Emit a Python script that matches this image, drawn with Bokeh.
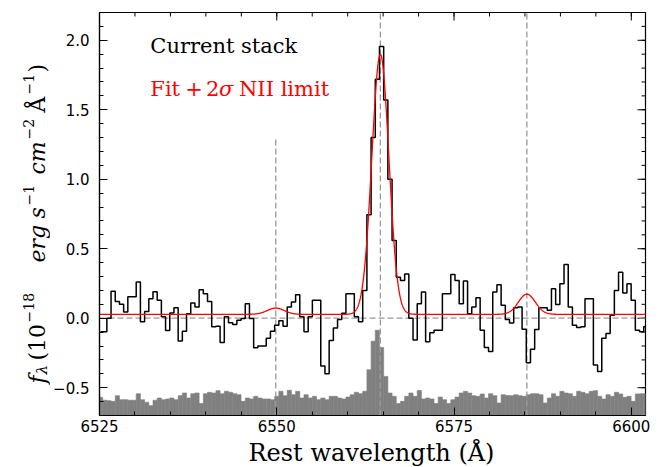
import numpy as np
from bokeh.plotting import figure
from bokeh.layouts import row, column
from bokeh.models import Range1d, FixedTicker, Label, CustomJSTickFormatter
from bokeh.embed import file_html
from bokeh.resources import INLINE

# ---------------- data ----------------
wave_start = 6525.15   # first bin centre (Angstrom)
wave_step = 0.5915     # bin width (Angstrom)

flux = [-0.098, -0.098, 0.0, 0.195, 0.12, 0.10, 0.045, 0.155, 0.155, 0.26,
        -0.026, 0.048, 0.14, 0.19, 0.13, 0.01, -0.088, 0.038, 0.076, -0.164,
        -0.093, 0.033, 0.11, 0.08, 0.205, 0.176, 0.12, -0.062, -0.057, -0.174,
        0.01, -0.033, -0.045, -0.014, -0.002, 0.105, -0.002, -0.212, -0.2, -0.2,
        -0.145, -0.093, -0.05, -0.019, -0.057, 0.081, 0.117, 0.169, 0.01, -0.098,
        0.01, 0.129, 0.129, -0.343, -0.40, -0.16, -0.07, -0.01, 0.035, 0.176,
        0.176, 0.01, -0.025, 0.2, 0.745, 1.30, 1.72, 1.955, 1.57, 1.0,
        0.56, 0.295, 0.271, 0.319, 0.0, -0.157, 0.105, 0.188, -0.169, -0.105,
        -0.086, -0.086, 0.176, 0.176, 0.314, 0.271, 0.105, 0.267, 0.033, 0.081,
        0.148, -0.086, -0.21, -0.24, 0.188, 0.24, 0.093, -0.01, -0.035, 0.075,
        0.081, -0.08, -0.32, -0.224, -0.081, 0.076, 0.076, 0.057, 0.212, 0.098,
        0.248, 0.386, 0.081, -0.05, -0.067, -0.062, 0.14, 0.14, -0.336, -0.383,
        -0.145, -0.11, 0.021, 0.2, 0.331, 0.181, 0.248, 0.129, -0.086, -0.098,
        -0.062]

err_offset = [-0.569, -0.59, -0.593, -0.598, -0.557, -0.586, -0.586, -0.59, -0.59, -0.543,
              -0.586, -0.605, -0.629, -0.59, -0.574, -0.586, -0.581, -0.574, -0.586, -0.557,
              -0.538, -0.574, -0.543, -0.538, -0.614, -0.543, -0.533, -0.538, -0.521, -0.543,
              -0.526, -0.533, -0.543, -0.55, -0.598, -0.574, -0.581, -0.562, -0.574, -0.581,
              -0.581, -0.586, -0.562, -0.526, -0.557, -0.519, -0.55, -0.526, -0.574, -0.55,
              -0.574, -0.562, -0.586, -0.574, -0.586, -0.562, -0.562, -0.574, -0.581, -0.567,
              -0.55, -0.533, -0.543, -0.526, -0.371, -0.165, -0.086, -0.21, -0.419, -0.538,
              -0.562, -0.614, -0.598, -0.562, -0.538, -0.562, -0.52, -0.581, -0.574, -0.581,
              -0.614, -0.567, -0.586, -0.614, -0.586, -0.567, -0.538, -0.526, -0.538, -0.557,
              -0.562, -0.545, -0.574, -0.543, -0.557, -0.61, -0.55, -0.556, -0.557, -0.55,
              -0.557, -0.562, -0.55, -0.543, -0.543, -0.55, -0.61, -0.574, -0.543, -0.562,
              -0.526, -0.538, -0.543, -0.562, -0.526, -0.533, -0.543, -0.526, -0.521, -0.562,
              -0.581, -0.55, -0.562, -0.533, -0.545, -0.569, -0.562, -0.598, -0.545, -0.543,
              -0.543]

line_centers = [6549.86, 6564.61, 6585.27]   # NII, Halpha, NII
line_tops = [1.3, 2.2, 2.2]
fit_amps = [0.045, 1.87, 0.145]
fit_sigma = 1.2
fit_cont = 0.028

x_ticks = [6525, 6550, 6575, 6600]
y_ticks = [-0.5, 0.0, 0.5, 1.0, 1.5, 2.0]
x_minor = [6525 + 5 * i for i in range(16)]
y_minor = [round(-0.7 + 0.1 * i, 1) for i in range(30)]

XMIN, XMAX = 6525, 6602
YMIN, YMAX = -0.7, 2.2

wave = wave_start + wave_step * np.arange(len(flux))
fit_wave = np.linspace(XMIN, XMAX, 2000)
fit = fit_cont + sum(a * np.exp(-0.5 * ((fit_wave - c) / fit_sigma) ** 2)
                     for a, c in zip(fit_amps, line_centers))

H = 467
HTOP = 437       # height of the row holding the plot (the rest holds the x title)
WL = 50          # width of the strip holding the y-axis title
SERIF = "DejaVu Serif"
FTOP, FBOT = 12, 415

# ---------------- main figure ----------------
p = figure(width=660 - WL, height=HTOP, output_backend="svg", toolbar_location=None,
           x_range=Range1d(XMIN, XMAX), y_range=Range1d(YMIN, YMAX),
           min_border_left=47, min_border_right=15, min_border_top=FTOP,
           min_border_bottom=HTOP - FBOT)
p.xgrid.visible = False
p.ygrid.visible = False
p.outline_line_color = "black"
p.outline_line_width = 1.2

p.yaxis.formatter = CustomJSTickFormatter(code="return tick.toFixed(1).replace('-', '\\u2212');")
p.xaxis.ticker = FixedTicker(ticks=x_ticks, minor_ticks=x_minor)
p.yaxis.ticker = FixedTicker(ticks=y_ticks, minor_ticks=y_minor)
for ax in (p.xaxis[0], p.yaxis[0]):
    ax.major_tick_in = 8
    ax.major_tick_out = 0
    ax.minor_tick_in = 4
    ax.minor_tick_out = 0
    ax.axis_line_color = "black"
    ax.axis_line_width = 1.2
    ax.major_label_text_font = "DejaVu Sans"
    ax.major_label_text_font_size = "15px"
    ax.major_label_text_color = "black"
p.yaxis.major_label_standoff = 10
p.xaxis.major_label_standoff = 4

# ticks on the top and right edges of the frame (mirrors of the axes' ticks)
tx_major = 8 * (XMAX - XMIN) / 548.0
ty_major = 8 * (YMAX - YMIN) / 403.0
p.segment(x0=x_ticks, y0=[YMAX] * len(x_ticks), x1=x_ticks,
          y1=[YMAX - ty_major] * len(x_ticks), line_color="black", line_width=1)
p.segment(x0=x_minor, y0=[YMAX] * len(x_minor), x1=x_minor,
          y1=[YMAX - ty_major / 2] * len(x_minor), line_color="black", line_width=1)
p.segment(x0=[XMAX] * len(y_ticks), y0=y_ticks, x1=[XMAX - tx_major] * len(y_ticks),
          y1=y_ticks, line_color="black", line_width=1)
p.segment(x0=[XMAX] * len(y_minor), y0=y_minor, x1=[XMAX - tx_major / 2] * len(y_minor),
          y1=y_minor, line_color="black", line_width=1)

# gray histogram
p.quad(left=wave - wave_step / 2, right=wave + wave_step / 2,
       bottom=YMIN - 0.1, top=err_offset,
       fill_color="#808080", line_color="#808080", line_width=0.6)

# dashed reference lines
p.segment(x0=line_centers, y0=[YMIN] * 3, x1=line_centers, y1=line_tops,
          line_color="#999999", line_width=1.3, line_dash="6 3")
p.segment(x0=[XMIN], y0=[0], x1=[XMAX], y1=[0],
          line_color="#999999", line_width=1.3, line_dash="6 3")

# spectrum and fit
p.step(wave, flux, mode="center", line_color="black", line_width=1.5)
p.line(fit_wave, fit, line_color="red", line_width=1.3)


def px2x(px):
    return XMIN + (px - 97) * (XMAX - XMIN) / 548.0


def px2y(py):
    return YMAX - (py - FTOP) * (YMAX - YMIN) / (FBOT - FTOP)


def lab(fig, x, y, text, size="21px", color="black", style="normal", angle=0.0,
        align="left"):
    fig.add_layout(Label(x=x, y=y, text=text, text_font=SERIF,
                         text_font_size=size, text_color=color, text_font_style=style,
                         text_baseline="alphabetic", text_align=align, angle=angle))


# legend-like texts
lab(p, px2x(148), px2y(45), "Current stack")
lab(p, px2x(148), px2y(88), "Fit", color="red")
lab(p, px2x(183), px2y(88), "+", color="red")
lab(p, px2x(204), px2y(88), "2", color="red")
lab(p, px2x(217), px2y(88), "σ", color="red", style="italic")
lab(p, px2x(237), px2y(88), "NII limit", color="red")

# ---------------- y-axis title strip ----------------
# its frame is aligned with the main frame; data coords = page pixels (y down)
q = figure(width=WL, height=HTOP, output_backend="svg", toolbar_location=None,
           x_range=Range1d(0, WL), y_range=Range1d(FBOT, FTOP),
           x_axis_type=None, y_axis_type=None, min_border=0,
           min_border_top=FTOP, min_border_bottom=HTOP - FBOT)
q.xgrid.visible = False
q.ygrid.visible = False
q.outline_line_color = None

A = np.pi / 2
MAIN_X, SUP_X, SUB_X = 37, 28, 41
pieces = [  # (page y of start, x baseline, text, size, style)
    (383, MAIN_X, "f", "22px", "italic"),
    (374, SUB_X, "λ", "15px", "italic"),
    (360, MAIN_X, "(10", "22px", "normal"),
    (322, SUP_X, "−18", "14px", "normal"),
    (262, MAIN_X, "erg", "22px", "italic"),
    (218, MAIN_X, "s", "22px", "italic"),
    (205, SUP_X, "−1", "14px", "normal"),
    (174, MAIN_X, "cm", "22px", "italic"),
    (139, SUP_X, "−2", "14px", "normal"),
    (112, MAIN_X, "Å", "22px", "normal"),
    (94, SUP_X, "−1", "14px", "normal"),
    (72, MAIN_X, ")", "22px", "normal"),
]
for sy, bx, txt, size, style in pieces:
    lab(q, bx, sy, txt, size=size, style=style, angle=A)

# ---------------- x-axis title strip ----------------
r = figure(width=660, height=H - HTOP, output_backend="svg", toolbar_location=None,
           x_range=Range1d(0, 660), y_range=Range1d(H, HTOP),
           x_axis_type=None, y_axis_type=None, min_border=0)
r.xgrid.visible = False
r.ygrid.visible = False
r.outline_line_color = None
lab(r, 371, 452, "Rest wavelength (Å)", size="24px", align="center")

layout = column(row(q, p), r)
open("out.html", "w").write(file_html(layout, INLINE))
